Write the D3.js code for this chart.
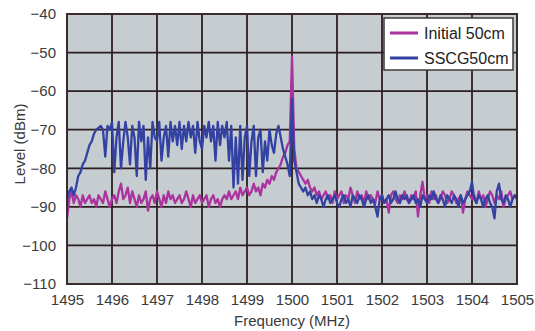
<!DOCTYPE html>
<html>
<head>
<meta charset="utf-8">
<script src="https://cdn.jsdelivr.net/npm/d3@7"></script>
<style>
  body { margin: 0; background: #fff; }
  text { font-family: "Liberation Sans", Arial, sans-serif; }
</style>
</head>
<body>
<div class="spectrum"></div>
<script>
// spectrum sampled every 0.05 MHz from 1495 to 1505 (one row = 0.5 MHz)
const freqStart = 1495;
const freqStep = 0.05;

const initial50 = [
  -93, -88, -86, -89, -87, -88, -90, -87, -89, -88,
  -87, -89, -88, -90, -87, -88, -89, -86, -88, -90,
  -88, -87, -89, -86, -84, -88, -87, -85, -89, -86,
  -88, -90, -87, -89, -88, -86, -91, -88, -87, -89,
  -86, -88, -90, -87, -89, -86, -88, -87, -89, -88,
  -87, -89, -88, -86, -88, -90, -87, -89, -88, -87,
  -89, -88, -87, -90, -88, -87, -89, -88, -90, -88,
  -87, -88, -86, -88, -87, -86, -88, -85, -87, -86,
  -85, -87, -86, -84, -86, -85, -87, -84, -85, -83,
  -84, -82, -83, -81, -80, -79, -77, -76, -74, -73,
  -51, -75, -80, -81, -82, -83, -84, -83, -85, -86,
  -85, -87, -86, -88, -87, -86, -88, -87, -89, -86,
  -88, -87, -86, -89, -87, -88, -85, -87, -89, -86,
  -88, -87, -89, -86, -88, -87, -88, -89, -86, -88,
  -87, -89, -88, -91.5, -87, -86, -88, -89, -87, -88,
  -86, -88, -89, -87, -88, -86, -92.5, -87, -83.5, -88,
  -87, -89, -86, -88, -87, -89, -88, -86, -87, -89,
  -88, -86, -87, -89, -88, -87, -91.5, -88, -86, -87,
  -88, -87, -89, -86, -88, -87, -90, -88, -86, -87,
  -89, -87, -88, -86, -90, -88, -87, -86, -88, -87,
  -87
];

const sscg50 = [
  -88, -86, -85, -87, -85, -82, -81, -79, -78, -76,
  -74, -73, -71, -70, -69.5, -69, -70, -77, -69, -70,
  -68, -81, -72, -68, -80, -73, -68, -72, -79, -69,
  -72, -82, -68, -73, -69, -83, -72, -80, -68, -72,
  -73, -68, -78, -72, -69, -77, -68, -73, -69, -74,
  -68, -75, -69, -73, -68, -72, -69, -76, -68, -73,
  -75, -69, -72, -68, -73, -69, -78, -68, -74, -69,
  -72, -68, -78, -69, -85, -72, -84, -69, -83, -72,
  -69, -82, -73, -69, -82, -72, -70, -81, -73, -78,
  -70, -74, -76, -71, -69, -72, -75, -77, -79, -82,
  -62, -78, -81, -84, -85, -86, -85, -87, -86, -88,
  -87, -89, -87, -88, -90, -88, -87, -89, -88, -87,
  -89, -90, -88, -87, -89, -88, -90, -87, -88, -89,
  -87, -88, -90, -88, -87, -89, -88, -90, -92.5, -88,
  -87, -89, -88, -87, -89, -88, -86, -88, -89, -87,
  -88, -87, -89, -88, -87, -89, -88, -90, -87, -88,
  -89, -87, -88, -86, -88, -89, -87, -88, -90, -87,
  -88, -89, -87, -88, -90, -87, -89, -88, -87, -86,
  -83.5, -88, -89, -87, -88, -90, -88, -87, -89, -90,
  -93, -86, -84, -88, -89, -87, -88, -90, -88, -87,
  -88
];

const seriesNames = ["Initial 50cm", "SSCG50cm"];
const seriesColors = ["#ab339e", "#3341a3"];
const xTicks = d3.range(1495, 1506, 1);
const yTicks = d3.range(-110, -39, 10);

const W = 535, H = 331;
const margin = { top: 14, right: 18, bottom: 47, left: 67 };
const width = W - margin.left - margin.right;
const height = H - margin.top - margin.bottom;

const svg = d3.select(".spectrum").append("svg")
  .attr("width", W)
  .attr("height", H);

const g = svg.append("g")
  .attr("transform", "translate(" + margin.left + "," + margin.top + ")");

const x = d3.scaleLinear().domain([1495, 1505]).range([0, width]);
const y = d3.scaleLinear().domain([-110, -40]).range([height, 0]);

// plot background
g.append("rect")
  .attr("width", width)
  .attr("height", height)
  .attr("fill", "#c5cdd1");

// grid lines
g.append("g").selectAll("line").data(xTicks).enter().append("line")
  .attr("x1", d => x(d)).attr("x2", d => x(d))
  .attr("y1", 0).attr("y2", height)
  .attr("stroke", "#2d1e20").attr("stroke-width", 1.8);

g.append("g").selectAll("line").data(yTicks).enter().append("line")
  .attr("x1", 0).attr("x2", width)
  .attr("y1", d => y(d)).attr("y2", d => y(d))
  .attr("stroke", "#2d1e20").attr("stroke-width", 1.8);

// series
const line = d3.line()
  .x((d, i) => x(freqStart + i * freqStep))
  .y(d => y(d));

[initial50, sscg50].forEach((vals, k) => {
  g.append("path")
    .attr("fill", "none")
    .attr("stroke", seriesColors[k])
    .attr("stroke-width", 2.3)
    .attr("stroke-linejoin", "round")
    .attr("d", line(vals));
});

// axes (labels only, grid already drawn)
const xAxis = g.append("g")
  .attr("transform", "translate(0," + height + ")")
  .call(d3.axisBottom(x).tickValues(xTicks).tickFormat(d3.format("d")).tickSize(0).tickPadding(10));
xAxis.select(".domain").remove();
xAxis.selectAll("text").attr("font-size", 15).attr("fill", "#3a3a3a")
  .attr("font-family", "Liberation Sans, Arial, sans-serif");

const yAxis = g.append("g")
  .call(d3.axisLeft(y).tickValues(yTicks).tickSize(0).tickPadding(11));
yAxis.select(".domain").remove();
yAxis.selectAll("text").attr("font-size", 15).attr("fill", "#3a3a3a")
  .attr("font-family", "Liberation Sans, Arial, sans-serif");

// frame
g.append("rect")
  .attr("width", width).attr("height", height)
  .attr("fill", "none").attr("stroke", "#3a2b2e").attr("stroke-width", 2);

// axis titles
svg.append("text")
  .attr("x", margin.left + width / 2).attr("y", 326)
  .attr("text-anchor", "middle")
  .attr("font-size", 15).attr("fill", "#3a3a3a")
  .text("Frequency (MHz)");

svg.append("text")
  .attr("transform", "translate(25," + (margin.top + height / 2 - 5) + ") rotate(-90)")
  .attr("text-anchor", "middle")
  .attr("font-size", 15).attr("fill", "#3a3a3a")
  .text("Level (dBm)");

// legend
const legend = svg.append("g").attr("transform", "translate(384,18)");
legend.append("rect")
  .attr("width", 129).attr("height", 52)
  .attr("fill", "#fff").attr("stroke", "#3a3a3a").attr("stroke-width", 1.5);

seriesNames.forEach((name, k) => {
  legend.append("line")
    .attr("x1", 6).attr("x2", 34)
    .attr("y1", 15 + k * 25).attr("y2", 15 + k * 25)
    .attr("stroke", seriesColors[k]).attr("stroke-width", 3);
  legend.append("text")
    .attr("x", 40).attr("y", 21 + k * 25)
    .attr("font-size", 16).attr("fill", "#222")
    .text(name);
});
</script>
</body>
</html>
